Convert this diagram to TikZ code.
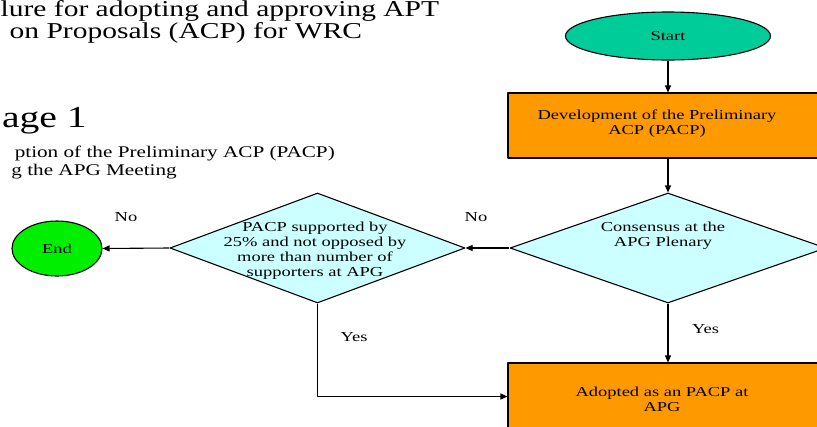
\documentclass[tikz,border=0pt]{standalone}
\usepackage{fontspec}
\setmainfont{Liberation Serif}[FakeStretch=1.35]
\newfontfamily\titlefont{Liberation Serif}[FakeStretch=1.30]
\usetikzlibrary{shapes.geometric,arrows.meta}
\definecolor{startcol}{HTML}{00CC99}
\definecolor{endcol}{HTML}{00EE00}
\definecolor{boxcol}{HTML}{FF9900}
\definecolor{deccol}{HTML}{CCFFFF}
\begin{document}
\begin{tikzpicture}[x=1pt,y=-1pt,>={Triangle[length=7pt,width=6pt]}, line join=round,
	font=\fontsize{13.7}{15}\selectfont,
	term/.style={ellipse,draw,line width=1.1pt,inner sep=0pt},
	procbox/.style={rectangle,draw,line width=1.1pt,fill=boxcol,inner sep=0pt},
	decision/.style={diamond,draw,line width=1.1pt,fill=deccol,inner sep=0pt},
	txt/.style={align=center,inner sep=0pt},
	heading/.style={anchor=base east,inner sep=0pt},
	flow/.style={->,line width=1.1pt}]
		\useasboundingbox (0,0) rectangle (817,426);
		\clip (0,0) rectangle (817,426);
		% title, cut at the left edge
		\node[anchor=north west,align=left,inner sep=0pt,font=\titlefont\fontsize{22.7}{20.5}\selectfont] (title) at (0.5,0.5)
			{lure for adopting and approving APT\\\hspace*{9pt}on Proposals (ACP) for WRC};
		\node[heading,font=\titlefont\fontsize{30.5}{32}\selectfont] (stage) at (87,127) {age 1};
		\node[heading,font=\titlefont\fontsize{16.3}{18}\selectfont] (sub1) at (335,157) {ption of the Preliminary ACP (PACP)};
		\node[heading,font=\titlefont\fontsize{16.3}{18}\selectfont] (sub2) at (177,175) {g the APG Meeting};
		% flow chart
		\node[term,fill=startcol,minimum width=205pt,minimum height=48pt] (start) at (668,36) {Start};
		\node[procbox,minimum width=330pt,minimum height=65pt] (dev) at (673,125.5) {};
		\node[txt] (devtxt) at (657,123.5) {Development of the Preliminary\\ACP (PACP)};
		\node[decision,minimum width=316pt,minimum height=110pt] (cons) at (668,248) {};
		\node[txt] (constxt) at (663,235.5) {Consensus at the\\APG Plenary};
		\node[decision,minimum width=295pt,minimum height=110pt] (pacp) at (317.5,248) {};
		\node[txt] (pacptxt) at (315,250.5) {PACP supported by\\25\% and not opposed by\\more than number of\\supporters at APG};
		\node[term,fill=endcol,minimum width=90pt,minimum height=55pt] (end) at (57,248.5) {End};
		\node[procbox,minimum width=330pt,minimum height=67pt] (adopt) at (673,396.5) {};
		\node[txt] (adopttxt) at (662,399.5) {Adopted as an PACP at\\APG};
		% labels
		\node (no1) at (126,217) {No};
		\node (no2) at (476,217) {No};
		\node (yes1) at (354,337) {Yes};
		\node (yes2) at (705.5,329) {Yes};
		% connectors
		\draw[flow] (start.south) -- (start.south |- dev.north);
		\draw[flow] (cons.north |- dev.south) -- (cons.north);
		\draw[flow] (cons.west) -- (pacp.east);
		\draw[flow] (pacp.west) -- (end.east);
		\draw[flow] (pacp.south) |- (adopt.west);
		\draw[flow] (cons.south) -- (cons.south |- adopt.north);
\end{tikzpicture}
\end{document}
